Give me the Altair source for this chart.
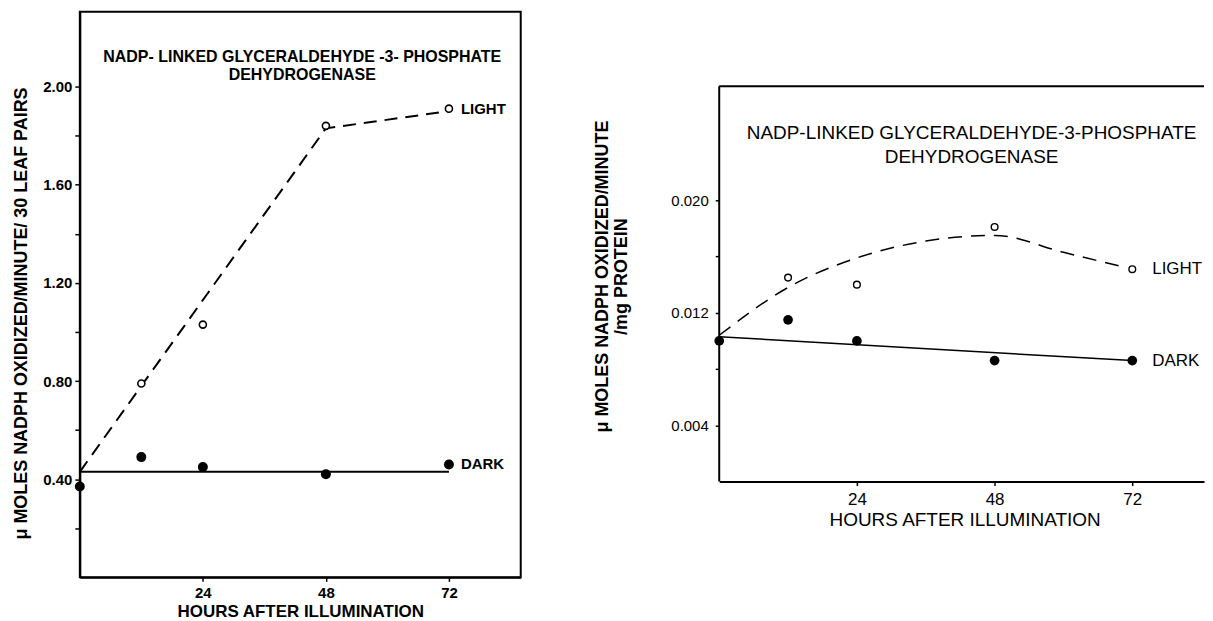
import altair as alt
import pandas as pd

FONT = "Liberation Sans"

# ---------------- data ----------------
# Left panel: per 30 leaf pairs
l_light_hours = [12, 24, 48, 72]
l_light_vals = [0.79, 1.03, 1.84, 1.91]
l_dark_hours = [0, 12, 24, 48, 72]
l_dark_vals = [0.37, 0.49, 0.45, 0.42, 0.46]
l_light_fit_hours = [0, 48, 72]
l_light_fit_vals = [0.43, 1.83, 1.90]
l_dark_fit_hours = [0, 72]
l_dark_fit_vals = [0.43, 0.43]

# Right panel: per mg protein
r_light_hours = [12, 24, 48, 72]
r_light_vals = [0.0145, 0.0140, 0.0181, 0.0151]
r_dark_hours = [0, 12, 24, 48, 72]
r_dark_vals = [0.0100, 0.0115, 0.0100, 0.0086, 0.0086]
r_light_fit_hours = [0, 12, 24, 36, 48, 60, 70]
r_light_fit_vals = [0.0104, 0.0138, 0.0159, 0.0171, 0.0175, 0.0163, 0.0153]
r_dark_fit_hours = [0, 72]
r_dark_fit_vals = [0.0103, 0.0086]

x_ticks = [24, 48, 72]
l_y_ticks = [0.2, 0.4, 0.6, 0.8, 1.0, 1.2, 1.4, 1.6, 1.8, 2.0]
r_y_ticks = [0.004, 0.008, 0.012, 0.016, 0.020]

title_lines = ["NADP- LINKED GLYCERALDEHYDE -3- PHOSPHATE", "DEHYDROGENASE"]
r_title_lines = ["NADP-LINKED GLYCERALDEHYDE-3-PHOSPHATE", "DEHYDROGENASE"]
l_ytitle = "\u03bc MOLES NADPH OXIDIZED/MINUTE/ 30 LEAF PAIRS"
r_ytitle = ["\u03bc MOLES NADPH OXIDIZED/MINUTE", "/mg PROTEIN"]
x_title = "HOURS AFTER ILLUMINATION"
R_FRAME_TOP = 0.0281


def df(xs, ys):
    return pd.DataFrame({"h": xs, "v": ys})


# ---------------- left panel ----------------
LW, LH = 442, 567
lx = alt.X("h:Q", scale=alt.Scale(domain=[0, 86], nice=False, zero=False),
           axis=alt.Axis(values=x_ticks, title=x_title, grid=False,
                         domainColor="black", domainWidth=2,
                         tickColor="black", tickWidth=1.5, tickSize=4,
                         labelPadding=4, labelFont=FONT, labelFontWeight="bold",
                         labelFontSize=15, labelColor="black",
                         titleFont=FONT, titleFontWeight="bold", titleFontSize=17,
                         titleColor="black", titlePadding=3))
ly = alt.Y("v:Q", scale=alt.Scale(domain=[0, 2.305], nice=False, zero=False),
           axis=alt.Axis(values=l_y_ticks,
                         labelExpr="round(datum.value*10) % 4 == 0 ? format(datum.value, '.2f') : ''",
                         grid=False, domainColor="black", domainWidth=2,
                         tickColor="black", tickWidth=1.5, tickSize=5,
                         labelPadding=3, labelFont=FONT, labelFontWeight="bold",
                         labelFontSize=15, labelColor="black",
                         title=l_ytitle, titleFont=FONT, titleFontWeight="bold",
                         titleFontSize=18, titleColor="black",
                         titleX=-49, titleY=302))

l_light_fit = alt.Chart(df(l_light_fit_hours, l_light_fit_vals)).mark_line(
    color="black", strokeWidth=2, strokeDash=[13, 8]).encode(x=lx, y=ly)
l_dark_fit = alt.Chart(df(l_dark_fit_hours, l_dark_fit_vals)).mark_line(
    color="black", strokeWidth=2).encode(x=lx, y=ly)
l_light_pts = alt.Chart(df(l_light_hours, l_light_vals)).mark_point(
    shape="circle", filled=True, fill="white", stroke="black", strokeWidth=1.6,
    size=50, opacity=1).encode(x=lx, y=ly)
l_dark_pts = alt.Chart(df(l_dark_hours, l_dark_vals)).mark_point(
    shape="circle", filled=True, color="black", size=100, opacity=1).encode(x=lx, y=ly)
l_labels = alt.Chart(pd.DataFrame({
    "h": [l_light_hours[-1], l_dark_hours[-1]],
    "v": [l_light_vals[-1], l_dark_vals[-1]],
    "t": ["LIGHT", "DARK"]})).mark_text(
    align="left", baseline="middle", dx=12, font=FONT, fontWeight="bold",
    fontSize=15, color="black").encode(x=lx, y=ly, text="t:N")
l_title = alt.Chart(pd.DataFrame({"a": [0]})).mark_text(
    text=title_lines, align="center", baseline="middle", font=FONT,
    fontWeight="bold", fontSize=16, lineHeight=18, color="black").encode(
    x=alt.value(223), y=alt.value(45))

left = alt.layer(l_light_fit, l_dark_fit, l_light_pts, l_dark_pts, l_labels, l_title).properties(
    width=LW, height=LH,
    view=alt.ViewBackground(stroke="black", strokeWidth=2))

# ---------------- right panel ----------------
RW, RH = 486, 471
rx = alt.X("h:Q", scale=alt.Scale(domain=[0, 84.5], nice=False, zero=False),
           axis=alt.Axis(values=x_ticks, title=x_title, grid=False,
                         domainColor="black", domainWidth=2,
                         tickColor="black", tickWidth=1.5, tickSize=4,
                         labelPadding=6, labelFont=FONT, labelFontSize=17,
                         labelColor="black", titleFont=FONT, titleFontSize=19,
                         titleFontWeight="normal", titleColor="black",
                         titlePadding=3, titleX=246))
ry = alt.Y("v:Q", scale=alt.Scale(domain=[0, 0.0334], nice=False, zero=False),
           axis=alt.Axis(values=r_y_ticks,
                         labelExpr="round(datum.value*1000) % 8 == 4 ? format(datum.value, '.3f') : ''",
                         grid=False, domain=False, tickColor="black",
                         tickWidth=1.5, tickSize=4, labelPadding=7,
                         labelFont=FONT, labelFontSize=15, labelColor="black",
                         title=r_ytitle, titleFont=FONT, titleFontWeight="bold",
                         titleFontSize=18, titleColor="black", titleLineHeight=19,
                         titleX=-108, titleY=265))

r_light_fit = alt.Chart(df(r_light_fit_hours, r_light_fit_vals)).mark_line(
    color="black", strokeWidth=1.5, strokeDash=[14, 9], interpolate="monotone").encode(x=rx, y=ry)
r_dark_fit = alt.Chart(df(r_dark_fit_hours, r_dark_fit_vals)).mark_line(
    color="black", strokeWidth=1.5).encode(x=rx, y=ry)
r_light_pts = alt.Chart(df(r_light_hours, r_light_vals)).mark_point(
    shape="circle", filled=True, fill="white", stroke="black", strokeWidth=1.4,
    size=45, opacity=1).encode(x=rx, y=ry)
r_dark_pts = alt.Chart(df(r_dark_hours, r_dark_vals)).mark_point(
    shape="circle", filled=True, color="black", size=95, opacity=1).encode(x=rx, y=ry)
r_labels = alt.Chart(pd.DataFrame({
    "h": [r_light_hours[-1], r_dark_hours[-1]],
    "v": [r_light_vals[-1], r_dark_vals[-1]],
    "t": ["LIGHT", "DARK"]})).mark_text(
    align="left", baseline="middle", dx=20, font=FONT, fontSize=17,
    color="black").encode(x=rx, y=ry, text="t:N")
r_title = alt.Chart(pd.DataFrame({"a": [0]})).mark_text(
    text=r_title_lines, align="center", baseline="middle", font=FONT,
    fontSize=19, lineHeight=24, color="black").encode(
    x=alt.value(253), y=alt.value(122))
r_left_border = alt.Chart(pd.DataFrame({"a": [0]})).mark_rule(
    color="black", strokeWidth=2).encode(
    x=alt.value(0), y=alt.datum(0), y2=alt.datum(R_FRAME_TOP))
r_top_border = alt.Chart(pd.DataFrame({"a": [0]})).mark_rule(
    color="black", strokeWidth=2).encode(
    y=alt.datum(R_FRAME_TOP), x=alt.value(0), x2=alt.value(RW))

right = alt.layer(r_left_border, r_top_border, r_light_fit, r_dark_fit,
                  r_light_pts, r_dark_pts, r_labels, r_title).properties(
    width=RW, height=RH,
    view=alt.ViewBackground(strokeOpacity=0))

chart = alt.hconcat(left, right, spacing=71).properties(
    padding={"left": 4, "top": 2, "right": 0, "bottom": 0},
    background="white")

chart.save("out.html", embed_options={"renderer": "svg", "actions": False})
